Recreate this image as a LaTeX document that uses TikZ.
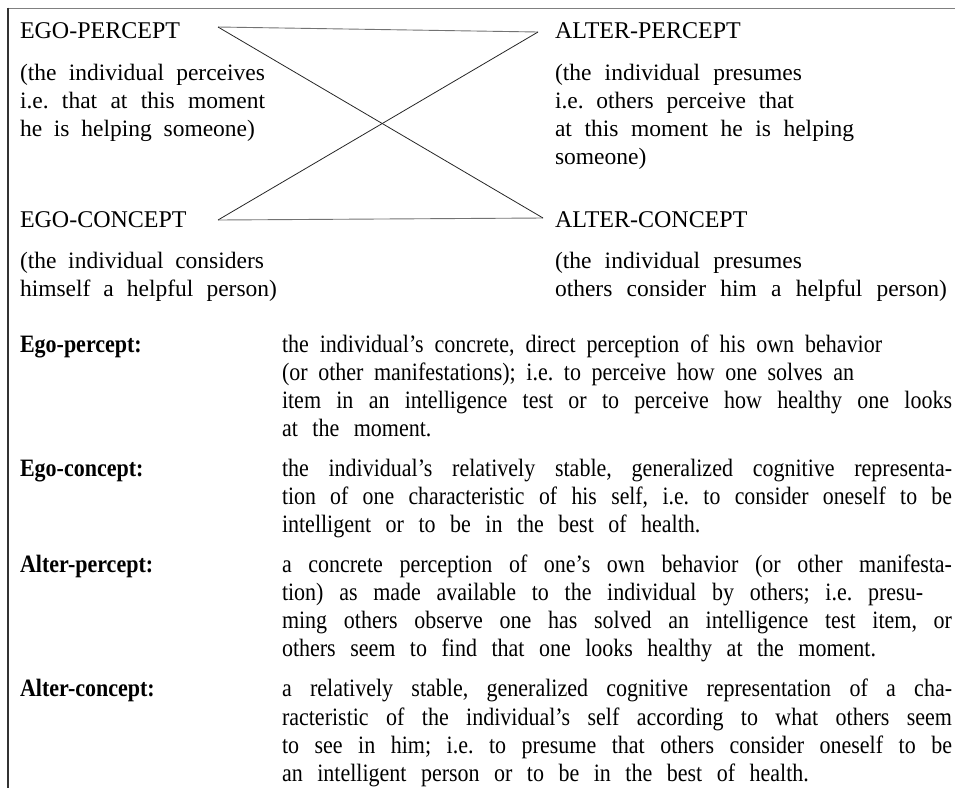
\documentclass[tikz,border=0pt]{standalone}
\usepackage{fontspec}
\setmainfont{Liberation Serif}[Ligatures=TeX]
\newfontfamily\deffont{Liberation Serif}[FakeStretch=0.88,Ligatures=TeX]
\usepackage{graphicx}
\newlength\natw
\newcommand\jline[2]{\settowidth\natw{#2}\ifdim\natw>#1\relax\pgfmathsetmacro\sxf{#1/\natw}\scalebox{\sxf}[1]{#2}\else\makebox[#1][s]{#2}\fi}
\newcommand\defsetup{\deffont\fontsize{25}{28}\selectfont\frenchspacing\spaceskip=14.5pt plus 10pt minus 5pt\relax}
\tikzset{
  head/.style={anchor=base west, inner sep=0pt, outer sep=0pt, font=\fontsize{24}{28}\selectfont},
  body/.style={anchor=base west, inner sep=0pt, outer sep=0pt, font={\fontsize{23.5}{28}\selectfont\frenchspacing}},
  deflab/.style={anchor=base west, inner sep=0pt, outer sep=0pt, font={\defsetup\bfseries}},
  deftxt/.style={anchor=base west, inner sep=0pt, outer sep=0pt, font={\defsetup}},
  link/.style={draw=black!85, line width=0.8pt},
  hlink/.style={draw=black!55, line width=0.9pt},
  frametop/.style={draw=black!50, line width=1.6pt},
  frameleft/.style={draw=black!80, line width=1.6pt},
}
\begin{document}
\frenchspacing
\begin{tikzpicture}[x=1pt,y=-1pt]
\useasboundingbox (0,0) rectangle (955,788);
% frame
\draw[frametop] (7,8.5) -- (955,8.5);
\draw[frameleft] (8,7.7) -- (8,788);
% top block, left
\node[head] (ep) at (20,38) {EGO-PERCEPT};
\node[body] (ep1) at (20,80) {\jline{245pt}{(the individual perceives}};
\node[body] (ep2) at (20,108) {\jline{245pt}{i.e. that at this moment}};
\node[body] (ep3) at (20,136) {\jline{235pt}{he is helping someone)}};
\node[head] (ec) at (20,227) {EGO-CONCEPT};
\node[body] (ec1) at (20,268) {\jline{244pt}{(the individual considers}};
\node[body] (ec2) at (20,296) {\jline{257pt}{himself a helpful person)}};
% top block, right
\node[head] (ap) at (555,38) {ALTER-PERCEPT};
\node[body] (ap1) at (555,80) {\jline{247pt}{(the individual presumes}};
\node[body] (ap2) at (555,108) {\jline{239pt}{i.e. others perceive that}};
\node[body] (ap3) at (555,136) {\jline{299pt}{at this moment he is helping}};
\node[body] (ap4) at (555,164) {someone)};
\node[head] (ac) at (555,227) {ALTER-CONCEPT};
\node[body] (ac1) at (555,268) {\jline{247pt}{(the individual presumes}};
\node[body] (ac2) at (555,296) {\jline{392pt}{others consider him a helpful person)}};
% connectors
\coordinate (tl) at (218,27);
\coordinate (tr) at (538,32);
\coordinate (bl) at (218,220);
\coordinate (br) at (543,218);
\draw[hlink] (tl) -- (tr);
\draw[hlink] (bl) -- (br);
\draw[link] (tl) -- (br);
\draw[link] (tr) -- (bl);
% definitions
\node[deflab] (lep) at (20,352) {Ego-percept:};
\node[deftxt] (dep1) at (282,352) {\makebox[600pt][s]{the individual’s concrete, direct perception of his own behavior}};
\node[deftxt] (dep2) at (282,380) {\makebox[572pt][s]{(or other manifestations); i.e. to perceive how one solves an}};
\node[deftxt] (dep3) at (282,408.5) {\jline{670pt}{item in an intelligence test or to perceive how healthy one looks}};
\node[deftxt] (dep4) at (282,436.5) {at the moment.};
\node[deflab] (lec) at (20,476) {Ego-concept:};
\node[deftxt] (dec1) at (282,476) {\jline{670pt}{the individual’s relatively stable, generalized cognitive representa-}};
\node[deftxt] (dec2) at (282,504) {\jline{670pt}{tion of one characteristic of his self, i.e. to consider oneself to be}};
\node[deftxt] (dec3) at (282,532) {intelligent or to be in the best of health.};
\node[deflab] (lap) at (20,572) {Alter-percept:};
\node[deftxt] (dap1) at (282,572) {\jline{670pt}{a concrete perception of one’s own behavior (or other manifesta-}};
\node[deftxt] (dap2) at (282,600) {\jline{641pt}{tion) as made available to the individual by others; i.e. presu-}};
\node[deftxt] (dap3) at (282,628.5) {\jline{670pt}{ming others observe one has solved an intelligence test item, or}};
\node[deftxt] (dap4) at (282,656.5) {others seem to find that one looks healthy at the moment.};
\node[deflab] (lac) at (20,696.5) {Alter-concept:};
\node[deftxt] (dac1) at (282,696.5) {\jline{670pt}{a relatively stable, generalized cognitive representation of a cha-}};
\node[deftxt] (dac2) at (282,725) {\jline{670pt}{racteristic of the individual’s self according to what others seem}};
\node[deftxt] (dac3) at (282,753) {\jline{670pt}{to see in him; i.e. to presume that others consider oneself to be}};
\node[deftxt] (dac4) at (282,781) {an intelligent person or to be in the best of health.};
\end{tikzpicture}
\end{document}
